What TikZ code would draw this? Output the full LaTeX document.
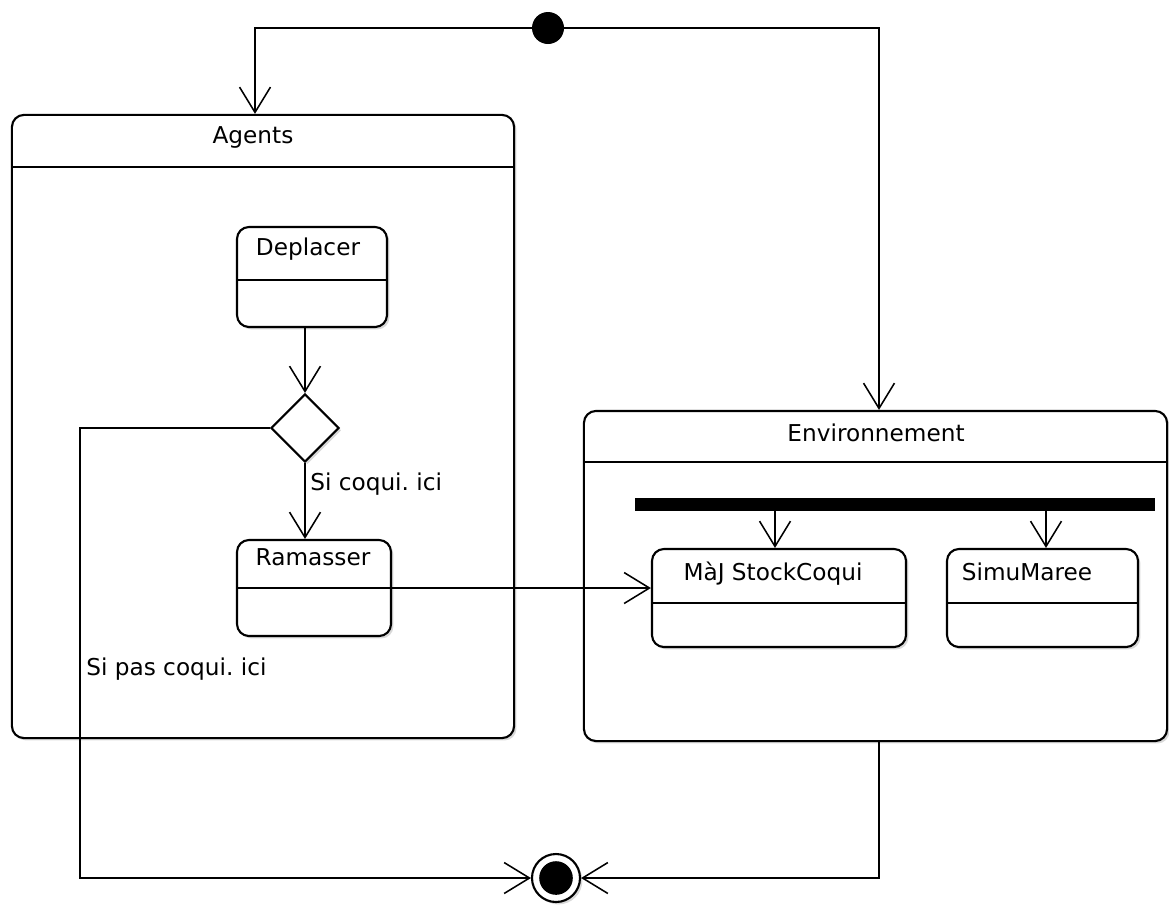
\documentclass[tikz,border=0pt]{standalone}
\usepackage{fontspec}
\setmainfont{DejaVu Sans}
\frenchspacing
\usetikzlibrary{arrows.meta,shapes.geometric,shadows}

\tikzset{
	ombre/.style={drop shadow={shadow xshift=0.06cm, shadow yshift=-0.06cm, opacity=0.3}},
	etat/.style={draw, line width=1.5pt, rounded corners=0.3cm, fill=white, inner sep=0, ombre},
	trait/.style={line width=1.5pt},
	fleche/.style={line width=1.5pt, -{Straight Barb[length=18pt, width=22pt, line width=1.1pt]}},
	texte/.style={font=\fontsize{16.5}{19}\selectfont, anchor=base, inner sep=0},
}

\begin{document}
\begin{tikzpicture}[x=0.025cm, y=-0.025cm]
	\useasboundingbox (0,0) rectangle (1169,904);

	% les deux regions
	\node[etat, minimum width=12.55cm, minimum height=15.575cm] (agents) at (263,426.5) {};
	\draw[trait] (12,167) -- (514,167);
	\node[texte] at (253,143) {Agents};

	\node[etat, minimum width=14.575cm, minimum height=8.25cm] (env) at (875.5,576) {};
	\draw[trait] (584,462) -- (1167,462);
	\node[texte] at (876,441) {Environnement};

	% etats des agents
	\node[etat, minimum width=3.75cm, minimum height=2.5cm] (deplacer) at (312,277) {};
	\draw[trait] (237,280) -- (387,280);
	\node[texte] at (308,255) {Deplacer};

	\node[diamond, draw, trait, fill=white, minimum size=1.7cm, inner sep=0, ombre] (choix) at (305,428) {};

	\node[etat, minimum width=3.85cm, minimum height=2.4cm] (ramasser) at (314,588) {};
	\draw[trait] (237,588) -- (391,588);
	\node[texte] at (313,565) {Ramasser};

	% etats de l'environnement
	\node[fill, minimum width=13cm, minimum height=0.33cm, inner sep=0] (barre) at (895,504.5) {};

	\node[etat, minimum width=6.35cm, minimum height=2.45cm] (maj) at (779,598) {};
	\draw[trait] (652,603) -- (906,603);
	\node[texte] at (773,580) {MàJ StockCoqui};

	\node[etat, minimum width=4.775cm, minimum height=2.45cm] (simu) at (1042.5,598) {};
	\draw[trait] (947,603) -- (1138,603);
	\node[texte] at (1027,580) {SimuMaree};

	% debut et fin
	\node[circle, fill, minimum size=0.8cm, inner sep=0] (debut) at (548,28) {};
	\node[circle, draw, trait, fill=white, minimum size=1.2cm, inner sep=0, ombre,
		path picture={\fill[black] (path picture bounding box.center) circle (0.42cm);}] (fin) at (556,878) {};

	% transitions
	\draw[fleche] (debut.west) -| (agents.north -| 255,0);
	\draw[fleche] (debut.east) -| (env.north -| 879,0);
	\draw[fleche] (deplacer.south -| choix.north) -- (choix.north);
	\draw[fleche] (choix.south) -- (ramasser.north -| choix.south);
	\node[texte, anchor=base west] at (310,490) {Si coqui. ici};
	\draw[fleche] (ramasser.east) -- (ramasser.east -| maj.west);
	\draw[fleche] (barre.south -| 775,0) -- (maj.north -| 775,0);
	\draw[fleche] (barre.south -| 1046,0) -- (simu.north -| 1046,0);
	\draw[fleche] (choix.west) -| (80,878) -- (fin.west);
	\node[texte, anchor=base west] at (86,675) {Si pas coqui. ici};
	\draw[fleche] (env.south -| 879,0) |- (fin.east);
\end{tikzpicture}
\end{document}
